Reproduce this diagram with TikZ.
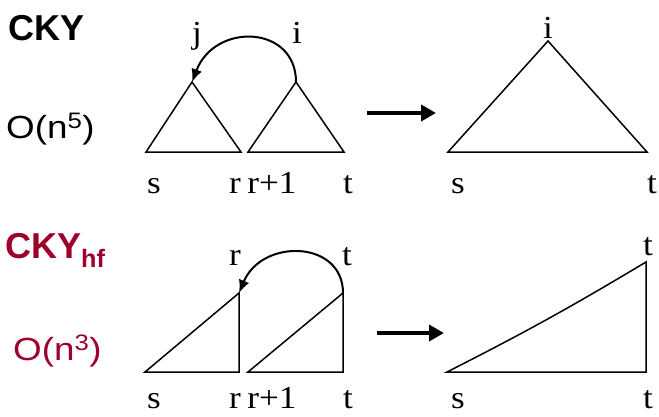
\documentclass[tikz,border=0pt]{standalone}
\usepackage{fontspec}
\setmainfont{Liberation Serif}[FakeStretch=1.1]
\newfontfamily\arialfont{Liberation Sans}
\newfontfamily\arialwide{Liberation Sans}[FakeStretch=1.15]
\usetikzlibrary{arrows.meta}
\definecolor{hfred}{RGB}{158,0,44}

\tikzset{
  lbl/.style={anchor=base, inner sep=0pt, font=\fontsize{32}{32}\selectfont},
  head/.style={anchor=base west, inner sep=0pt, font=\arialfont\bfseries\fontsize{36}{36}\selectfont},
  cost/.style={anchor=base west, inner sep=0pt, font=\arialwide\fontsize{32}{32}\selectfont},
  edge/.style={line width=1.5pt, line join=miter},
  hop/.style={line width=2pt, -{Latex[length=13pt,width=11pt]}},
  goes/.style={line width=4.5pt, -{Triangle[length=15pt,width=16pt]}}
}

\begin{document}
\begin{tikzpicture}[x=1pt, y=-1pt]
  \useasboundingbox (0,0) rectangle (659,416);

  % CKY
  \node[head] (cky) at (8,40) {CKY};
  \node[cost] (cost5) at (6,138) {O(n\textsuperscript{5})};

  \coordinate (jtop) at (192,82);
  \coordinate (itop) at (296,82);
  \draw[edge] (146,152) -- (jtop) -- (241,152) -- cycle;
  \draw[edge] (248,152) -- (itop) -- (344,152) -- cycle;
  \draw[hop] (itop) .. controls (296,25) and (215,22) .. (jtop);
  \node[lbl] (j) at (197,43) {j};
  \node[lbl] (i) at (297,43) {i};
  \node[lbl] (s1) at (154,193) {s};
  \node[lbl] (r1) at (235,193) {r};
  \node[lbl] (rr1) at (272,193) {r+1};
  \node[lbl] (t1) at (348,193) {t};

  \coordinate (a1) at (367,113);
  \coordinate (b1) at (436,113);
  \draw[goes] (a1) -- (b1);

  \coordinate (itall) at (548,41);
  \draw[edge] (448,152) -- (itall) -- (647,152) -- cycle;
  \node[lbl] (ibig) at (548,38) {i};
  \node[lbl] (sbig1) at (458,193) {s};
  \node[lbl] (tbig1) at (652,193) {t};

  % CKY_hf
  \node[head, text=hfred] (ckyhf) at (5,258) {CKY\textsubscript{hf}};
  \node[cost, text=hfred] (cost3) at (13,360) {O(n\textsuperscript{3})};

  \coordinate (rtop) at (239,293);
  \coordinate (ttop) at (343,293);
  \draw[edge] (145,372) -- (rtop) -- (239,372) -- cycle;
  \draw[edge] (248,372) -- (ttop) -- (343,372) -- cycle;
  \draw[hop] (ttop) .. controls (343,240) and (262,238) .. (rtop);
  \node[lbl] (r) at (235,265) {r};
  \node[lbl] (t) at (347,265) {t};
  \node[lbl] (s2) at (154,408) {s};
  \node[lbl] (r2) at (235,408) {r};
  \node[lbl] (rr2) at (272,408) {r+1};
  \node[lbl] (t2) at (348,408) {t};

  \coordinate (a2) at (377,333);
  \coordinate (b2) at (444,333);
  \draw[goes] (a2) -- (b2);

  \coordinate (ttall) at (646,262);
  \draw[edge] (447,372) to[bend right=2] (ttall) -- (646,372) -- cycle;
  \node[lbl] (tbig2) at (648,255) {t};
  \node[lbl] (sbig2) at (458,408) {s};
  \node[lbl] (tbig2b) at (648,408) {t};
\end{tikzpicture}
\end{document}
